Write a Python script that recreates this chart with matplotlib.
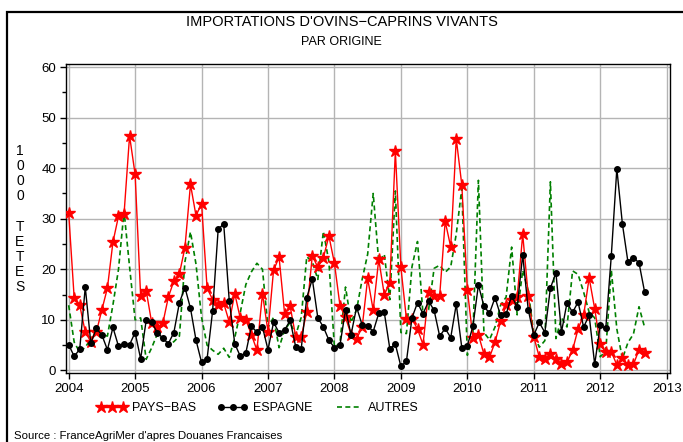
import numpy as np
import matplotlib
matplotlib.use("Agg")
import matplotlib.pyplot as plt
from matplotlib.patches import Rectangle
from matplotlib.ticker import MultipleLocator

start_year = 2004
pays_bas = [31.2, 14.3, 12.9, 7.6, 5.7, 7.6, 12.0, 16.3, 25.4, 30.5, 30.9, 46.4,
            38.8, 14.7, 15.8, 9.4, 8.6, 9.3, 14.5, 17.7, 19.1, 24.3, 36.8, 30.6,
            33.0, 16.3, 14.0, 12.9, 13.3, 9.6, 15.2, 10.3, 10.0, 7.1, 4.0, 15.2,
            7.7, 19.8, 22.4, 11.2, 12.7, 6.7, 6.7, 11.5, 22.7, 20.4, 22.3, 26.6,
            21.2, 12.8, 10.5, 7.1, 6.3, 8.5, 18.2, 11.9, 22.0, 15.0, 17.3, 43.4,
            20.4, 10.2, 10.2, 8.2, 5.1, 15.6, 14.7, 14.7, 29.5, 24.4, 45.8, 36.7,
            16.0, 6.5, 7.1, 3.2, 2.6, 5.6, 9.7, 12.9, 14.0, 14.5, 26.9, 14.8,
            6.7, 2.6, 2.3, 3.3, 2.3, 1.3, 1.6, 4.0, 8.2, 10.9, 18.3, 12.2,
            5.2, 3.6, 3.7, 1.1, 2.4, 1.1, 1.2, 4.1, 3.4]
espagne = [5.1, 2.8, 4.2, 16.5, 5.4, 8.3, 7.0, 4.1, 8.5, 4.8, 5.3, 5.1,
           7.5, 2.3, 9.9, 9.5, 7.5, 6.4, 5.3, 7.5, 13.4, 16.4, 12.3, 6.0,
           1.6, 2.3, 11.8, 27.9, 29.0, 13.8, 5.3, 2.8, 3.5, 8.7, 7.6, 8.6,
           4.1, 9.5, 7.5, 8.0, 9.9, 4.7, 4.3, 14.4, 18.1, 10.4, 8.6, 6.0,
           4.5, 5.0, 12.0, 7.1, 12.5, 9.0, 8.8, 7.7, 11.3, 11.5, 4.3, 5.2,
           0.8, 1.8, 10.4, 13.4, 11.2, 13.7, 11.9, 6.8, 8.3, 6.5, 13.1, 4.5,
           4.9, 8.7, 16.9, 12.7, 11.3, 14.4, 10.9, 11.1, 14.8, 12.5, 22.9, 12.0,
           7.0, 9.5, 7.5, 16.3, 19.3, 7.6, 13.4, 11.5, 13.5, 8.6, 10.9, 1.2,
           8.9, 8.3, 22.7, 39.9, 29.0, 21.5, 22.3, 21.3, 15.6]
autres = [12.9, 5.6, 3.6, 4.6, 6.2, 7.2, 7.0, 6.8, 13.0, 20.0, 31.5, 20.5,
          10.0, 10.4, 2.2, 4.5, 7.2, 6.0, 5.0, 5.7, 6.8, 21.5, 27.4, 21.0,
          10.5, 5.0, 4.0, 3.2, 4.4, 2.6, 6.5, 11.5, 17.0, 19.5, 21.2, 20.0,
          8.5, 10.5, 4.5, 8.0, 9.5, 7.0, 10.5, 22.5, 21.5, 18.0, 27.5, 21.5,
          4.5, 5.5, 16.5, 9.5, 12.0, 18.0, 23.0, 35.0, 21.5, 23.0, 14.0, 35.5,
          7.5, 7.3, 20.5, 25.5, 11.0, 12.0, 20.2, 20.8, 19.4, 20.5, 27.0, 36.0,
          3.0, 7.0, 37.6, 7.5, 6.1, 8.6, 12.9, 14.5, 24.4, 11.0, 19.8, 15.8,
          7.2, 4.6, 5.9, 37.3, 6.3, 10.4, 8.6, 19.7, 19.0, 15.5, 11.5, 10.4,
          2.7, 3.8, 19.9, 8.2, 2.3, 5.5, 7.2, 12.6, 8.6]
year_ticks = list(range(2004, 2014))
y_ticks = [0, 10, 20, 30, 40, 50, 60]
labels = ["PAYS\u2212BAS", "ESPAGNE", "AUTRES"]
title = "IMPORTATIONS D'OVINS\u2212CAPRINS VIVANTS"
subtitle = "PAR ORIGINE"
ylabel_chars = ["1", "0", "0", "0", " ", "T", "E", "T", "E", "S"]
source = "Source : FranceAgriMer d'apres Douanes Francaises"

FONT = ["Liberation Sans Narrow", "Liberation Sans", "DejaVu Sans"]
plt.rcParams["font.family"] = FONT

x = start_year + np.arange(len(pays_bas)) / 12.0

fig = plt.figure(figsize=(6.83, 4.42), dpi=100)
ax = fig.add_axes([66 / 683, 1 - 373 / 442, (670 - 66) / 683, (373 - 64) / 442])

ax.plot(x, pays_bas, color="red", lw=1.0, marker="*", ms=9, mec="red", mfc="red",
        label=labels[0], zorder=3)
ax.plot(x, espagne, color="black", lw=1.0, marker="o", ms=4, label=labels[1], zorder=4)
ax.plot(x, autres, color="green", lw=1.2, ls=(0, (3, 2)), label=labels[2], zorder=2)

ax.set_xlim(2003.96, 2013.05)
ax.set_ylim(-0.5, 60.6)
ax.set_xticks(year_ticks)
ax.set_yticks(y_ticks)
ax.yaxis.set_minor_locator(MultipleLocator(5))
ax.grid(True, which="major", color="#b4b4b4", lw=1.0)
ax.set_axisbelow(True)
ax.tick_params(axis="both", which="major", direction="out", length=4, width=1,
               labelsize=9.5, pad=3)
ax.tick_params(axis="y", which="minor", direction="out", length=3, width=1)
for s in ax.spines.values():
    s.set_linewidth(1.0)

fig.text(0.5, 1 - 22 / 442, title, ha="center", va="center", fontsize=10.5)
fig.text(0.5, 1 - 42 / 442, subtitle, ha="center", va="center", fontsize=9)
fig.text(20 / 683, 1 - 219 / 442, "\n".join(ylabel_chars), ha="center", va="center",
         fontsize=10, linespacing=1.1)
fig.text(14 / 683, 1 - 436 / 442, source, ha="left", va="center", fontsize=8.2)

leg = fig.legend(loc="center", bbox_to_anchor=(258 / 683, 1 - 408 / 442), ncol=3,
                 frameon=False, numpoints=3, handlelength=2.4, handletextpad=0.4,
                 columnspacing=1.7, fontsize=9)

fig.patches.append(Rectangle((7 / 683, -0.05), 1.0, 1 - 12 / 442 + 0.05,
                             transform=fig.transFigure, fill=False, ec="black",
                             lw=1.6, zorder=10))

fig.savefig("out.png", dpi=100)
